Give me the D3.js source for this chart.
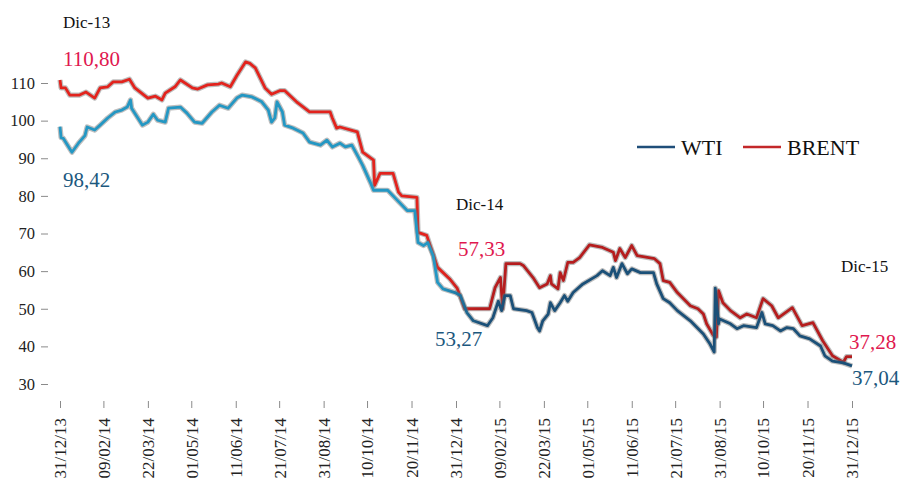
<!DOCTYPE html>
<html>
<head>
<meta charset="utf-8">
<script src="https://cdn.jsdelivr.net/npm/d3@7"></script>
<style>
  html, body { margin: 0; padding: 0; background: #ffffff; }
  svg { display: block; font-family: "Liberation Serif", "Times New Roman", serif; }
</style>
</head>
<body>
<svg id="chart" width="904" height="478"></svg>
<script>
// ---------- DATA ----------
const xTickLabels = ["31/12/13","09/02/14","22/03/14","01/05/14","11/06/14","21/07/14","31/08/14","10/10/14","20/11/14","31/12/14","09/02/15","22/03/15","01/05/15","11/06/15","21/07/15","31/08/15","10/10/15","20/11/15","31/12/15"];
const yTicks = [30, 40, 50, 60, 70, 80, 90, 100, 110];

const wtiDates = ["2013-12-31","2014-01-01","2014-01-03","2014-01-11","2014-01-17","2014-01-23","2014-01-25","2014-02-01","2014-02-06","2014-02-13","2014-02-20","2014-02-26","2014-03-03","2014-03-06","2014-03-07","2014-03-17","2014-03-22","2014-03-27","2014-03-31","2014-04-07","2014-04-10","2014-04-21","2014-04-27","2014-05-04","2014-05-11","2014-05-20","2014-05-27","2014-06-04","2014-06-12","2014-06-17","2014-06-26","2014-07-05","2014-07-11","2014-07-14","2014-07-17","2014-07-19","2014-07-24","2014-07-26","2014-08-03","2014-08-12","2014-08-18","2014-08-28","2014-09-03","2014-09-08","2014-09-15","2014-09-20","2014-09-26","2014-10-02","2014-10-06","2014-10-13","2014-10-16","2014-10-29","2014-11-07","2014-11-16","2014-11-23","2014-11-26","2014-12-01","2014-12-05","2014-12-10","2014-12-14","2014-12-19","2014-12-30","2015-01-04","2015-01-10","2015-01-16","2015-01-29","2015-02-03","2015-02-08","2015-02-11","2015-02-14","2015-02-19","2015-02-22","2015-03-06","2015-03-11","2015-03-16","2015-03-18","2015-03-21","2015-03-26","2015-03-28","2015-04-01","2015-04-06","2015-04-10","2015-04-13","2015-04-18","2015-04-27","2015-05-10","2015-05-15","2015-05-22","2015-05-25","2015-05-28","2015-06-02","2015-06-07","2015-06-11","2015-06-19","2015-07-01","2015-07-04","2015-07-10","2015-07-16","2015-07-23","2015-08-04","2015-08-16","2015-08-22","2015-08-26","2015-08-27","2015-08-30","2015-08-31","2015-09-10","2015-09-16","2015-09-22","2015-10-04","2015-10-09","2015-10-12","2015-10-19","2015-10-26","2015-11-01","2015-11-07","2015-11-13","2015-11-22","2015-12-02","2015-12-06","2015-12-13","2015-12-23","2015-12-31"];
const wtiValues = [98.4,95.5,95.3,91.6,94,96,98.3,97.5,98.8,100.7,102.3,102.8,103.6,105.5,103.3,98.8,99.6,101.7,100.1,99.6,103.3,103.6,102,99.6,99.3,102.3,104.1,103.3,106,106.8,106.3,105,102.8,99.6,100.7,105,102.3,98.8,98,96.7,94.3,93.5,94.8,93,94,93,93.5,90.3,88.1,83.6,81.5,81.5,78.8,76.1,76.1,67.6,66.8,67.6,64.1,57,55.3,54.3,53.5,49,46.8,45.5,47.6,52,49.5,53.5,53.5,50,49.5,49,45,44.1,46.8,48.6,51.6,49.5,51.6,53.5,52,54.3,56.6,58.8,60.1,58.8,61,58.3,62,59.3,60.6,59.6,59.6,56.6,52.7,51.6,49.5,46.8,43.3,40.7,38.5,55.5,46,47.3,46,44.7,45.5,45,49,46,45.5,44.1,45,44.7,42.8,42,40.1,37.5,36.1,35.6,34.8];

const brentDates = ["2013-12-31","2014-01-01","2014-01-05","2014-01-09","2014-01-18","2014-01-24","2014-02-01","2014-02-06","2014-02-13","2014-02-18","2014-02-26","2014-03-05","2014-03-10","2014-03-22","2014-03-29","2014-04-04","2014-04-07","2014-04-16","2014-04-21","2014-05-02","2014-05-07","2014-05-16","2014-05-26","2014-05-29","2014-06-06","2014-06-12","2014-06-20","2014-06-24","2014-06-29","2014-07-08","2014-07-14","2014-07-22","2014-07-26","2014-08-06","2014-08-18","2014-09-06","2014-09-08","2014-09-12","2014-09-15","2014-10-01","2014-10-06","2014-10-16","2014-10-17","2014-10-22","2014-11-03","2014-11-08","2014-11-11","2014-11-25","2014-11-26","2014-12-04","2014-12-14","2014-12-25","2015-01-01","2015-01-08","2015-01-31","2015-02-05","2015-02-10","2015-02-12","2015-02-15","2015-02-28","2015-03-03","2015-03-12","2015-03-18","2015-03-25","2015-03-28","2015-03-29","2015-04-04","2015-04-06","2015-04-09","2015-04-13","2015-04-18","2015-04-24","2015-05-03","2015-05-15","2015-05-25","2015-05-27","2015-05-31","2015-06-05","2015-06-11","2015-06-16","2015-07-02","2015-07-07","2015-07-10","2015-07-16","2015-07-23","2015-08-04","2015-08-11","2015-08-16","2015-08-19","2015-08-25","2015-08-28","2015-08-30","2015-09-03","2015-09-10","2015-09-19","2015-09-25","2015-10-04","2015-10-10","2015-10-18","2015-10-24","2015-11-06","2015-11-15","2015-11-25","2015-12-04","2015-12-13","2015-12-23","2015-12-26","2015-12-31"];
const brentValues = [110.8,108.7,108.7,106.8,106.8,107.6,106,108.7,109,110.3,110.3,111,108.7,106,106.5,105.5,107.3,109,110.8,108.7,108.4,109.5,109.7,110,109,112,115.6,115.2,114,108.7,107,108,108,105,102.3,102.3,100.7,98,98.3,97,91.6,89.5,82.8,86,86,81,80,79.6,70.3,69.5,61,58,55.5,50,50,55.6,58.3,50,62,62,61.5,58.3,55.6,56.6,58.8,56.6,55.3,59.6,57.5,62.3,62.3,63.6,67,66.3,65,62.8,66,63.6,66.8,64.1,63.3,62,57.5,57,54.3,50.8,50,48.6,46,43,42.5,54.8,51.6,49.5,47.6,48.6,47.6,52.7,50.8,47.6,50.3,45.5,46.3,41.5,37.5,35.8,37.3,37.3];

const annotationTexts = ["Dic-13", "110,80", "98,42", "Dic-14", "57,33", "53,27", "Dic-15", "37,28", "37,04"];
const annotationKinds = ["date", "brent", "wti", "date", "brent", "wti", "date", "brent", "wti"];
const legendNames = ["WTI", "BRENT"];

// ---------- SETUP ----------
const svg = d3.select("#chart");
const parseISO = d3.timeParse("%Y-%m-%d");
const parseTick = d3.timeParse("%d/%m/%y");

const x = d3.scaleTime()
  .domain([parseISO("2013-12-31"), parseISO("2015-12-31")])
  .range([60, 852]);
const y = d3.scaleLinear().domain([30, 110]).range([384, 83]);

const font = "'Liberation Serif', 'Times New Roman', serif";

// gradients (colour shifts from light to dark along the series)
const defs = svg.append("defs");
function grad(id, c1, c2) {
  const g = defs.append("linearGradient").attr("id", id)
    .attr("gradientUnits", "userSpaceOnUse")
    .attr("x1", 440).attr("x2", 480).attr("y1", 0).attr("y2", 0);
  g.append("stop").attr("offset", 0).attr("stop-color", c1);
  g.append("stop").attr("offset", 1).attr("stop-color", c2);
}
grad("gWti", "#2497c3", "#1b5078");
grad("gBrent", "#e2231d", "#b51d1e");

// ---------- AXES ----------
const yAxis = svg.append("g").attr("transform", "translate(48,0)")
  .call(d3.axisLeft(y).tickValues(yTicks).tickSize(7).tickPadding(6).tickFormat(d3.format("d")));
yAxis.select(".domain").remove();
yAxis.selectAll(".tick line").attr("stroke", "#8a8a8a");
yAxis.selectAll(".tick text").attr("font-family", font).attr("font-size", 16.5).attr("fill", "#222");

const xAxis = svg.append("g").attr("transform", "translate(0,401)")
  .call(d3.axisBottom(x).tickValues(xTickLabels.map(parseTick)).tickSize(7).tickFormat(d3.timeFormat("%d/%m/%y")));
xAxis.select(".domain").remove();
xAxis.selectAll(".tick line").attr("stroke", "#8a8a8a");
xAxis.selectAll(".tick text")
  .attr("font-family", font).attr("font-size", 17).attr("fill", "#222")
  .attr("transform", "rotate(-90)")
  .attr("x", -17).attr("y", 0).attr("dy", "0.35em")
  .attr("text-anchor", "end");

// ---------- LINES ----------
const wti = wtiDates.map((d, i) => ({ date: parseISO(d), v: wtiValues[i] }));
const brent = brentDates.map((d, i) => ({ date: parseISO(d), v: brentValues[i] }));
const line = d3.line().x(d => x(d.date)).y(d => y(d.v));

function drawSeries(data, gradId) {
  svg.append("path").datum(data).attr("d", line)
    .attr("fill", "none").attr("stroke", "#6f6f6f").attr("stroke-opacity", 0.45)
    .attr("stroke-width", 5.2).attr("stroke-linejoin", "round");
  svg.append("path").datum(data).attr("d", line)
    .attr("fill", "none").attr("stroke", `url(#${gradId})`)
    .attr("stroke-width", 2.8).attr("stroke-linejoin", "round");
}
drawSeries(brent, "gBrent");
drawSeries(wti, "gWti");

// ---------- ANNOTATIONS ----------
const annPos = [
  [63, 28], [63, 66], [63, 187],
  [456, 210], [458, 256], [435, 346],
  [841, 272], [849, 349], [852, 385]
];
const annStyle = { date: ["#111", 17], brent: ["#e0184f", 21], wti: ["#1c587e", 21] };
annotationTexts.forEach((t, i) => {
  const k = annotationKinds[i];
  svg.append("text").attr("x", annPos[i][0]).attr("y", annPos[i][1])
    .attr("font-family", font).attr("font-size", annStyle[k][1])
    .attr("fill", annStyle[k][0]).text(t);
});

// ---------- LEGEND ----------
const legendColors = ["#1f4e79", "#c3282a"];
const legendX = [637, 743];
legendNames.forEach((n, i) => {
  svg.append("line").attr("x1", legendX[i]).attr("x2", legendX[i] + 38).attr("y1", 147).attr("y2", 147)
    .attr("stroke", legendColors[i]).attr("stroke-width", 2.5);
  svg.append("text").attr("x", legendX[i] + 44).attr("y", 155)
    .attr("font-family", font).attr("font-size", 22).attr("fill", "#111").text(n);
});
</script>
</body>
</html>
